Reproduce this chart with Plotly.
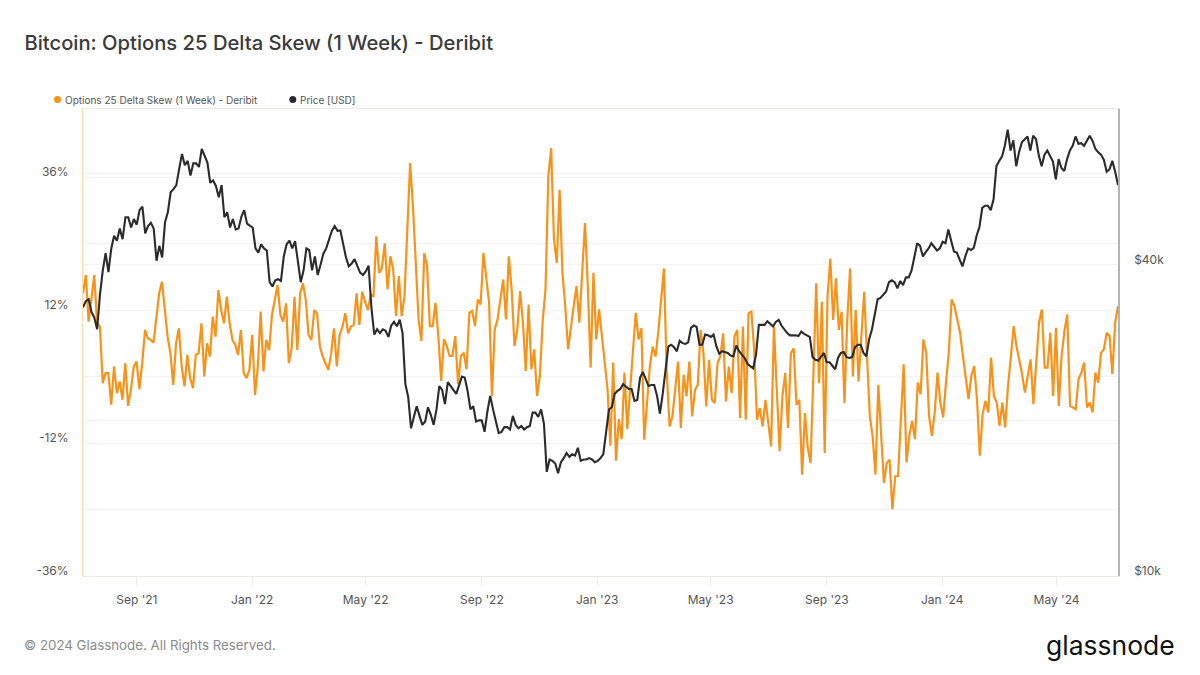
import pandas as pd
import plotly.graph_objects as go

title = "Bitcoin: Options 25 Delta Skew (1 Week) - Deribit"
skew_name = "Options 25 Delta Skew (1 Week) - Deribit"
price_name = "Price [USD]"

# data, roughly one reading every 3 days
start_date = "2021-07-06"
end_date = "2024-07-05"

skew_pct = [
    15, 18.3, 9.9, 14.4, 18.3, 9.6, 9, -1.2, 0.6, 0.6, -5.1, 1.8, -3, -0.9, -4.2, 2.4, -5.3, -2.4, 1.8, 2.7,
    -2.3, 2.4, 8.4, 6.9, 6.6, 6.1, 10.2, 15, 17.1, 12, 7.2, 4.2, -1.5, 6, 8.7, 1.8, -1.8, 3.9, -0.3, -2.1,
    3.9, 4.2, 9.6, 0, 6, 3.6, 10.8, 7.2, 15.6, 12, 9.6, 14.4, 9.6, 6.6, 5.7, 3.9, 8.4, 0.6, -0.3, 1.2,
    7.5, -3.3, 1.8, 11.7, 0.9, 6.6, 4.8, 11.1, 13.8, 16.5, 11.1, 9.9, 13.2, 2.4, 5.1, 14.4, 4.8, 15, 16.8, 13.8,
    7.5, 6.6, 12, 11.4, 5.4, 3.6, 2.4, 1.2, 4.2, 8.7, 1.8, 7.5, 9, 11.4, 7.8, 9, 9.3, 15, 9.3, 15.3,
    13.5, 12, 14.7,
    14.5, 25.3, 18.7, 19.6, 24, 15.7, 21.7, 19.3, 10.9, 18.1, 10.9, 14.5, 25.9, 38.5, 30.7, 19.3, 10.3, 6.4,
    22.3, 19.9, 9.1, 9.1, 13.3, 7.3, -0.8, 6.7, 5.5, 3.7, 3.7, 7.3, -1.4, 3.7, 4.3, 1.3, 11.5, 11.8, 9.1, 13.9,
    13, 22.3, 17.5, 13.3, -3.5, 8.5, 10.3, 13.9, 17.5, 10.3, 21.7, 15.7, 5.5, 8.5, 15.4, 9.7, 1, 13, 1.3, 4.9,
    -3.5, 0.1, 10, 15.7, 36.1, 41.2, 24.7, 20.5, 33.7, 18.7, 12.7, 4.9, 9.1, 12.7, 16.3, 9.7, 18.7, 27.7, 16.3, 1.6,
    18.7, 6.7, 12.1, 7.3, 1.3, -2.3, -12.5, 2.5, -15.2, -7.7, -11.3, 0.7, -9.5, -2.9, 4.3, 11.5, 6.7,
    8.7, -11.4, -4.2, 1.8, 5.4, 3.6, 8.1, 13.8, 19.5, 0.6, -9, -7.2, -1.8, 2.7, -9.3, 0.3, -3.6, 2.7, -7.2, -2.4,
    -1.5, 8.4, 4.2, -5.4, 3, -4.2, -4.8, 2.4, 3.6, 7.8, -4.5, 1.8, -3, 7.2, 8.4, -7.5, 9, -7.8, 11.4, 11.7,
    4.8, -7.8, -5.7, -9, -4.2, -9, -12.6, 9, -1.2, -13.5, -3.6, 0.6, -9.3, 4.2, 5.1, -5.1, -4.2, -17.7, -6.6, -12.9,
    -15.6, 2.4, 16.8, -1.2, 13.5, -13.8, 14.4, 21.3, 10.2, 17.7, 8.4, 11.7, -4.8, 10.2, 19.5, 0, 12, -0.9, 7.8, 15.3,
    3.6, -7.2, -10.8, -17.7, -1.5, -10.2, -19.2, -15.6, -15, -24, -18, -18,
    -7.1, 2.2, -15.5, -10.7, -8, -11.3, -1.1, -3.2, 6.7, 4.3, -7.1, -10.7, -6.5, 0.7, -4.7, -7.4, -1.1, 4.3, 13.9, 12.7,
    10.3, 7.9, 3.7, -0.5, -4.1, 0.1, 1.9, -4.1, -14.3, -6.8, -4.4, -6.5, 3.4, -3.5, -4.7, -8.9, -4.7, -9.2, -1.7, 3.4,
    9.1, 5.5, 3.1, 0.4, -2.9, 0.1, 3.1, -5, 1.9, 9.7, 12.1, 1.6, 1.6, 7.9, -3.5, 8.8, -5.3, 3.7, 8.2, 11.2,
    -5.3, -5.6, -5.9, -0.5, 0.7, 2.5, -5.6, -4.7, -6.5, 0.7, -1.1, 4.3, 4.9, 7.9, 7.3, 0.4, 9.7, 12.7,
]

price_usd = [
    33100, 34000, 34300, 32400, 31600, 30000, 35000, 39000, 42100, 38700, 43000, 45500, 44500, 47000, 44800, 49400,
    49400, 47200, 49000, 47800, 51000, 51800, 46000, 47500, 48200, 47000, 40700, 43500, 41300, 48300, 50500, 55200,
    56000, 57000, 61200, 65500, 62300, 63500, 59500, 62800, 62800, 61800, 67000, 65000, 63000, 57600, 58200, 56800,
    54000, 57000, 49400, 50500, 47200, 49000, 46800, 47000, 49500, 51000, 48000, 47600, 47200, 43000, 42200, 43800,
    43000, 42600, 37000, 36300, 37300, 37500, 37200, 41500, 43800, 44500, 43000, 44400, 40500, 37000, 39000, 43000,
    42700, 39000, 41500, 38200, 40000, 42000, 43000, 44600, 46500, 47500, 46500, 46600, 44000, 41300, 39700, 40200,
    41000, 39900, 38600, 38200, 38800, 39800, 33000,
    29300, 30000, 29500, 30000, 29800, 29000, 30500, 31000, 30400, 31300, 29500, 23500, 22200, 19300, 20300, 21300,
    20400, 19600, 19900, 21200, 20500, 19600, 21000, 23300, 22900, 21500, 23700, 23300, 23000, 22500, 23400, 24300,
    24200, 22800, 21000, 21300, 19900, 20000, 20000, 19000, 20800, 22300, 21000, 19900, 18900, 19000, 19400, 19400,
    19200, 20400, 19600, 19300, 19500, 19200, 19400, 19500, 20700, 20700, 20300, 21000, 19700, 15900, 16800, 16700,
    16500, 15800, 16600, 16900, 17300, 17000, 17200, 17100, 17700, 16700, 16800, 16800, 16900, 16800, 16600, 16700,
    16900, 17200, 18800, 21000, 21200, 22500, 22800, 23000, 23500, 23200, 23000, 23000, 21800, 21900,
    24200, 24800, 24000, 23300, 23400, 23400, 22300, 20600, 22500, 25000, 27800, 28000, 27700, 27200, 28500, 28200,
    28100, 28300, 30200, 30500, 30300, 28000, 28000, 29300, 29200, 29000, 29300, 27800, 26900, 27200, 27100, 27000,
    26700, 26600, 27900, 27200, 26800, 26400, 25700, 25400, 25200, 26800, 30600, 30600, 30600, 31100, 30700, 30400,
    31000, 31300, 30500, 30000, 29500, 29200, 29200, 29200, 29100, 29700, 29400, 29200, 29000, 26500, 26200, 26100,
    26500, 27000, 25900, 25900, 25500, 25100, 26400, 27000, 27100, 26500, 26400, 26500, 27700, 28000, 28000, 27000,
    26600, 28700, 30000, 32000, 34300, 34500, 35000, 35500, 37000, 37300, 37000, 36000,
    37200, 36500, 37800, 37800, 39000, 41500, 44000, 43500, 41500, 42300, 43000, 44000, 43400, 42600, 43000, 44300,
    44000, 46800, 44500, 42400, 42200, 41000, 39700, 41500, 43000, 42700, 43100, 45500, 47300, 51500, 52000, 52000,
    51000, 53500, 62000, 63500, 64800, 68000, 73000, 66500, 69600, 62000, 66000, 69000, 70000, 70800, 66500, 71000,
    70000, 65000, 62000, 65300, 66500, 64800, 63300, 58500, 64000, 61500, 60700, 64000, 66500, 68000, 70800, 68500,
    68700, 67900, 69500, 71000, 69400, 67000, 66000, 65300, 63800, 60500, 61200, 63500, 60500, 57000,
]

skew_ticks = [-36, -24, -12, 0, 12, 24, 36]
skew_labels = ["-36%", "", "-12%", "", "12%", "", "36%"]
price_ticks = [10000, 20000, 40000, 60000, 80000]
price_labels = ["$10k", "", "$40k", "", ""]
month_ticks = ["2021-09-01", "2022-01-01", "2022-05-01", "2022-09-01", "2023-01-01",
               "2023-05-01", "2023-09-01", "2024-01-01", "2024-05-01"]
month_labels = ["Sep '21", "Jan '22", "May '22", "Sep '22", "Jan '23",
                "May '23", "Sep '23", "Jan '24", "May '24"]

orange = "#f7931a"
dark = "#2b2b2b"
font_name = "Inter"

skew_dates = pd.date_range(start_date, end_date, periods=len(skew_pct))
price_dates = pd.date_range(start_date, end_date, periods=len(price_usd))

fig = go.Figure()
fig.add_trace(go.Scatter(x=skew_dates, y=skew_pct, name=skew_name, mode="lines",
                         line=dict(color=orange, width=2.2), showlegend=False))
fig.add_trace(go.Scatter(x=price_dates, y=price_usd, name=price_name, mode="lines", yaxis="y2",
                         line=dict(color=dark, width=2.1), showlegend=False))

fig.update_layout(
    width=1200, height=675,
    margin=dict(l=82.5, r=81.5, t=109, b=99),
    paper_bgcolor="white", plot_bgcolor="white",
    font=dict(family=font_name, color="#555555", size=12),
    title=dict(text=title, x=24.5 / 1200, xanchor="left", y=1 - 43 / 675, yanchor="middle",
               font=dict(family=font_name, size=20.2, color="#3a3a3a", weight=500)),
    xaxis=dict(range=[start_date, end_date], tickvals=month_ticks, ticktext=month_labels,
               showgrid=False, ticks="outside", ticklen=9, tickcolor="#eeeeee", tickwidth=1,
               showline=True, linecolor="#ece9e2", mirror=True, ticklabelstandoff=4,
               tickfont=dict(size=12, color="#555555")),
    yaxis=dict(range=[-36, 48.27], tickvals=skew_ticks, ticktext=skew_labels,
               gridcolor="#f3f3f3", zeroline=False, showline=True, linecolor="#fbdcae",
               ticks="", ticklabelstandoff=11, ticklabelshift=-5,
               tickfont=dict(size=12, color="#555555")),
    yaxis2=dict(type="log", range=[4, 4.90309], overlaying="y", side="right", anchor="x",
                tickvals=price_ticks, ticktext=price_labels,
                gridcolor="#f3f3f3", zeroline=False, showline=True, linecolor="#b4b4b4", linewidth=1.5,
                ticks="", ticklabelstandoff=12, ticklabelshift=-5,
                tickfont=dict(size=12, color="#555555")),
    showlegend=False,
)

# legend row and footer
fig.add_shape(type="circle", xref="paper", yref="paper", x0=-29 / 1036, x1=-22 / 1036,
              y0=(576 - 103) / 467, y1=(576 - 96) / 467, fillcolor=orange, line_width=0)
fig.add_shape(type="circle", xref="paper", yref="paper", x0=206.5 / 1036, x1=213.5 / 1036,
              y0=(576 - 103) / 467, y1=(576 - 96) / 467, fillcolor=dark, line_width=0)
fig.add_annotation(text=skew_name, xref="paper", yref="paper", x=-20.5 / 1036, y=(576 - 99.5) / 467,
                   xanchor="left", yanchor="middle", showarrow=False, font=dict(size=10, color="#555555"))
fig.add_annotation(text=price_name, xref="paper", yref="paper", x=215.5 / 1036, y=(576 - 99.5) / 467,
                   xanchor="left", yanchor="middle", showarrow=False, font=dict(size=10, color="#555555"))
fig.add_annotation(text="© 2024 Glassnode. All Rights Reserved.", xref="paper", yref="paper",
                   x=-61.5 / 1036, y=(576 - 645) / 467, xanchor="left", yanchor="middle", showarrow=False,
                   font=dict(size=13.3, color="#8a8a8a"))
fig.add_annotation(text="glassnode", xref="paper", yref="paper", x=962 / 1036, y=(576 - 645) / 467,
                   xanchor="left", yanchor="middle", showarrow=False,
                   font=dict(family="Inter", size=26.5, color="#111111"))

fig.write_html("out.html", config={"displayModeBar": False}, post_script="document.body.style.margin='0';")
